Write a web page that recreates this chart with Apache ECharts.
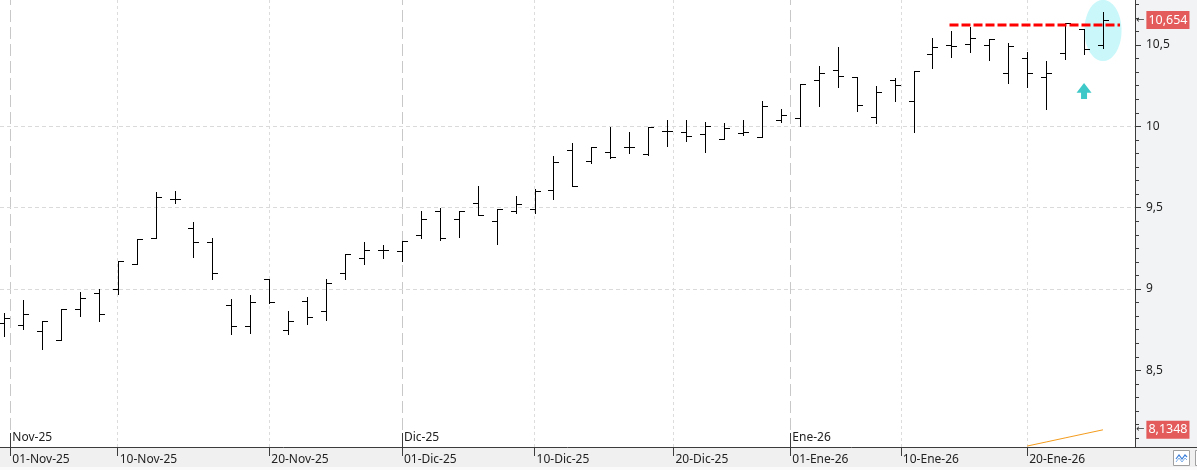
<!DOCTYPE html>
<html>
<head>
<meta charset="utf-8">
<script src="https://cdn.jsdelivr.net/npm/echarts@6/dist/echarts.min.js"></script>
<style>
html, body { margin: 0; padding: 0; background: #fff; }
#chart { width: 1197px; height: 470px; }
</style>
</head>
<body>
<div id="chart"></div>
<script>
// sesiones
const dates = ['2025-10-31','2025-11-03','2025-11-04','2025-11-05','2025-11-06','2025-11-07',
  '2025-11-10','2025-11-11','2025-11-12','2025-11-13','2025-11-14','2025-11-17','2025-11-18',
  '2025-11-19','2025-11-20','2025-11-21','2025-11-24','2025-11-25','2025-11-26','2025-11-27',
  '2025-11-28','2025-12-01','2025-12-02','2025-12-03','2025-12-04','2025-12-05','2025-12-08',
  '2025-12-09','2025-12-10','2025-12-11','2025-12-12','2025-12-15','2025-12-16','2025-12-17',
  '2025-12-18','2025-12-19','2025-12-22','2025-12-23','2025-12-24','2025-12-29','2025-12-30',
  '2025-12-31','2026-01-02','2026-01-05','2026-01-06','2026-01-07','2026-01-08','2026-01-09',
  '2026-01-12','2026-01-13','2026-01-14','2026-01-15','2026-01-16','2026-01-19','2026-01-20',
  '2026-01-21','2026-01-22','2026-01-23','2026-01-26']

const open = [8.79,8.777,8.74,8.685,8.876,8.977,8.998,9.152,9.312,9.552,9.373,9.287,8.9,8.773,
  9.06,8.746,8.925,8.863,9.097,9.189,9.238,9.232,9.33,9.478,9.429,9.527,9.417,9.478,9.49,9.609,
  9.855,9.785,9.841,9.871,9.832,9.971,9.965,9.951,9.92,9.959,9.937,10.037,10.051,10.283,10.345,
  10.302,10.056,10.285,10.156,10.445,10.5,10.506,10.5,10.328,10.42,10.302,10.451,10.597,10.498]
const high = [8.855,8.933,8.804,8.876,8.98,9.0,9.172,9.309,9.595,9.603,9.41,9.312,8.939,8.962,
  9.06,8.863,8.949,9.06,9.214,9.289,9.271,9.295,9.48,9.496,9.478,9.633,9.492,9.57,9.613,9.816,
  9.896,9.873,9.998,9.965,9.996,10.039,10.039,10.027,10.021,10.039,10.154,10.105,10.259,10.369,
  10.488,10.302,10.248,10.297,10.34,10.541,10.584,10.609,10.535,10.514,10.455,10.4,10.633,10.597,10.7]
const low = [8.713,8.756,8.63,8.685,8.836,8.805,8.968,9.152,9.312,9.531,9.199,9.06,8.722,8.732,
  8.912,8.722,8.787,8.812,9.064,9.156,9.193,9.174,9.312,9.3,9.322,9.453,9.279,9.466,9.469,9.552,
  9.632,9.773,9.804,9.838,9.822,9.881,9.912,9.844,9.92,9.949,9.935,10.029,10.004,10.128,10.244,
  10.093,10.022,10.158,9.963,10.36,10.424,10.455,10.41,10.265,10.24,10.105,10.412,10.445,10.483]
const close = [8.824,8.845,8.802,8.876,8.943,8.845,9.172,9.306,9.566,9.552,9.287,9.097,8.773,8.919,
  8.919,8.802,8.828,9.035,9.214,9.238,9.238,9.293,9.431,9.314,9.478,9.457,9.492,9.521,9.603,9.781,
  9.632,9.871,9.814,9.871,9.994,9.971,9.939,10.0,9.988,9.965,10.123,10.068,10.259,10.328,10.308,
  10.129,10.211,10.252,10.34,10.486,10.492,10.541,10.535,10.492,10.328,10.328,10.633,10.477,10.654]

// eje de fechas
const dateTicks = ['2025-11-01','2025-11-10','2025-11-20','2025-12-01','2025-12-10','2025-12-20',
  '2026-01-01','2026-01-10','2026-01-20']
const dateTickLabels = ['01-Nov-25','10-Nov-25','20-Nov-25','01-Dic-25','10-Dic-25','20-Dic-25',
  '01-Ene-26','10-Ene-26','20-Ene-26']
const monthTicks = ['2025-11-01','2025-12-01','2026-01-01']
const monthLabels = ['Nov-25','Dic-25','Ene-26']

// eje de precios
const priceTicks = [8.5, 9, 9.5, 10, 10.5]

// indicador (linea naranja)
const indDates = ['2026-01-20','2026-01-21','2026-01-22','2026-01-23','2026-01-26']
const indValues = [8.035, 8.06, 8.085, 8.11, 8.1348]

// anotaciones
const resistance = [[49.9, 10.623], [58.9, 10.623]]   // [sesion, precio]
const highlight = [[58, 10.589]]
const upArrow = [[57, 10.168, 10.266]]                 // [sesion, base, punta]
const lastClose = close[close.length - 1]
const lastInd = indValues[indValues.length - 1]

const FONT = "'Noto Sans', sans-serif"
const INK = '#3c3c3c'

// posicion de una fecha de calendario sobre el eje de sesiones
const ms = s => Date.parse(s + 'T00:00:00Z')
function posOf(d) {
  const t = ms(d)
  for (let i = 0; i < dates.length; i++) {
    const ti = ms(dates[i])
    if (ti === t) return i
    if (ti > t) {
      if (i === 0) return 0
      const tp = ms(dates[i - 1])
      return i - 1 + (t - tp) / (ti - tp)
    }
  }
  return dates.length - 1
}
const tickPos = dateTicks.map(posOf)
const monthPos = monthTicks.map(posOf)
const near = (arr, v) => arr.findIndex(p => Math.abs(p - v) < 1e-6)

// escala
const barStep = 18.948, firstBarX = 4, plotW = 1135
const xMin = -firstBarX / barStep
const xMax = xMin + plotW / barStep
const pxPerUnit = 162.7
const yMax = 10.5 + 45 / pxPerUnit
const yMin = yMax - 447 / pxPerUnit

const minorStep = 0.5 / 6
const minorTicks = []
for (let k = Math.ceil((yMin - priceTicks[0]) / minorStep); priceTicks[0] + k * minorStep <= yMax; k++) {
  if (k % 6 !== 0) minorTicks.push(+(priceTicks[0] + k * minorStep).toFixed(5))
}

const fmt = v => String(v).replace('.', ',')
const crisp = v => Math.round(v) + 0.5

function renderBar(params, api) {
  const i = api.value(0)
  const pH = api.coord([i, api.value(2)])
  const pL = api.coord([i, api.value(3)])
  const yO = crisp(api.coord([i, api.value(1)])[1])
  const yC = crisp(api.coord([i, api.value(4)])[1])
  const x = crisp(pH[0])
  const st = { stroke: '#000', lineWidth: 1 }
  return {
    type: 'group',
    children: [
      { type: 'line', shape: { x1: x, y1: Math.round(pH[1]), x2: x, y2: Math.round(pL[1]) + 1 }, style: st },
      { type: 'line', shape: { x1: x - 5.5, y1: yO, x2: x, y2: yO }, style: st },
      { type: 'line', shape: { x1: x, y1: yC, x2: x + 5.5, y2: yC }, style: st }
    ]
  }
}

function renderHighlight(params, api) {
  const c = api.coord([api.value(0), api.value(1)])
  const s = api.size([0.98, 0.188])
  return { type: 'ellipse', shape: { cx: c[0], cy: c[1], rx: s[0], ry: s[1] }, style: { fill: '#c9f7fa' } }
}

function renderArrow(params, api) {
  const b = api.coord([api.value(0), api.value(1)])
  const t = api.coord([api.value(0), api.value(2)])
  const x = t[0], hy = t[1] + (b[1] - t[1]) * 0.6
  return {
    type: 'polygon',
    shape: { points: [[x, t[1]], [x + 7.5, hy], [x + 3, hy], [x + 3, b[1]], [x - 3, b[1]], [x - 3, hy], [x - 7.5, hy]] },
    style: { fill: '#3fc8c8' }
  }
}

const chart = echarts.init(document.getElementById('chart'))
chart.setOption({
  animation: false,
  backgroundColor: '#f2f3f5',
  textStyle: { fontFamily: FONT },
  grid: { left: 0, right: 1197 - plotW, top: 0, bottom: 23, show: true, backgroundColor: '#fff', borderWidth: 0 },
  xAxis: [
    {
      type: 'value', position: 'bottom', min: xMin, max: xMax, z: 3,
      axisLine: { show: true, onZero: false, lineStyle: { color: INK } },
      splitLine: { show: false },
      axisTick: { show: true, length: 9, customValues: tickPos, lineStyle: { color: INK } },
      axisLabel: {
        customValues: tickPos, align: 'left', margin: 6, padding: [0, 0, 0, 2],
        color: '#222', fontSize: 12, fontFamily: FONT, lineHeight: 14,
        formatter: v => dateTickLabels[near(tickPos, v)] || ''
      }
    },
    {
      type: 'value', position: 'bottom', min: xMin, max: xMax, z: 3,
      axisLine: { show: false, onZero: false },
      splitLine: { show: false },
      axisTick: { show: true, inside: true, length: 14, customValues: monthPos, lineStyle: { color: INK } },
      axisLabel: {
        inside: true, customValues: monthPos, align: 'left', margin: 2, padding: [0, 0, 0, 2],
        color: '#222', fontSize: 12, fontFamily: FONT, lineHeight: 14,
        formatter: v => monthLabels[near(monthPos, v)] || ''
      }
    }
  ],
  yAxis: [
    {
      type: 'value', position: 'right', min: yMin, max: yMax, splitNumber: 5, z: 3,
      axisLine: { show: true, onZero: false, lineStyle: { color: INK } },
      axisTick: { show: true, length: 6, customValues: priceTicks, lineStyle: { color: INK } },
      axisLabel: { customValues: priceTicks, margin: 11, color: '#222', fontSize: 12, fontFamily: FONT, formatter: fmt },
      splitLine: { show: true, showMinLine: false, showMaxLine: false, lineStyle: { color: '#dadada', type: [4, 3] } }
    },
    {
      type: 'value', position: 'right', min: yMin, max: yMax, z: 3,
      axisLine: { show: false, onZero: false },
      axisTick: { show: true, length: 4, customValues: minorTicks, lineStyle: { color: INK } },
      axisLabel: { show: false },
      splitLine: { show: false }
    },
    {
      type: 'value', position: 'right', min: yMin, max: yMax, z: 4,
      axisLine: { show: false, onZero: false },
      axisTick: { show: false },
      splitLine: { show: false },
      axisLabel: {
        customValues: [lastInd, lastClose], margin: 1,
        formatter: v => '{a|←}{b|' + fmt(v) + '}',
        rich: {
          a: { fontFamily: 'DejaVu Sans', fontSize: 10, color: '#333', padding: [0, 2, 0, 0] },
          b: { backgroundColor: '#e35b5b', color: '#fff', fontFamily: FONT, fontSize: 12.5, lineHeight: 18, height: 18, padding: [0, 2, 0, 2] }
        }
      }
    }
  ],
  series: [
    {
      type: 'custom', name: 'zona', z: 1, silent: true,
      renderItem: renderHighlight, data: highlight, clip: true
    },
    {
      type: 'line', name: 'indicador', z: 2, symbol: 'none', silent: true,
      data: indDates.map((d, i) => [posOf(d), indValues[i]]),
      lineStyle: { color: '#f39b1c', width: 1 },
      markLine: {
        silent: true, symbol: 'none', z: 1, label: { show: false }, emphasis: { disabled: true },
        data: dateTicks.map(d => ({
          xAxis: posOf(d),
          lineStyle: monthTicks.includes(d)
            ? { color: '#c8c8c8', width: 1, type: [12, 5] }
            : { color: '#dcdcdc', width: 1, type: [3, 3] }
        }))
      }
    },
    {
      type: 'custom', name: 'OHLC', z: 3, silent: true, clip: true,
      renderItem: renderBar,
      encode: { x: 0, y: [1, 2, 3, 4] },
      data: dates.map((d, i) => [i, open[i], high[i], low[i], close[i]])
    },
    {
      type: 'line', name: 'resistencia', z: 4, symbol: 'none', silent: true,
      data: resistance,
      lineStyle: { color: '#ff0000', width: 3, type: [9, 3] }
    },
    {
      type: 'custom', name: 'flecha', z: 4, silent: true,
      renderItem: renderArrow, data: upArrow
    }
  ],
  graphic: [
    { type: 'rect', silent: true, z: -1, shape: { x: 0, y: 448, width: 1197, height: 19 }, style: { fill: '#f0f0f0' } },
    { type: 'rect', silent: true, z: -1, shape: { x: 0, y: 467, width: 1197, height: 3 }, style: { fill: '#fafafa' } },
    { type: 'line', silent: true, shape: { x1: plotW, y1: 447.5, x2: 1197, y2: 447.5 }, style: { stroke: INK, lineWidth: 1 } },
    { type: 'rect', silent: true, shape: { x: 1173.5, y: 450.5, width: 16, height: 15 }, style: { fill: '#fff', stroke: '#a0a0a0', lineWidth: 1 } },
    { type: 'polyline', silent: true, shape: { points: [[1176, 459], [1179, 455], [1182, 459], [1185, 455], [1187, 457]] }, style: { stroke: '#3b7fd9', lineWidth: 1.2, fill: null } },
    { type: 'polyline', silent: true, shape: { points: [[1176, 462], [1179, 458], [1182, 462], [1185, 458], [1187, 460]] }, style: { stroke: '#7fb0ea', lineWidth: 1, fill: null } },
    { type: 'rect', silent: true, shape: { x: 1195.5, y: 450.5, width: 8, height: 15 }, style: { fill: '#fff', stroke: '#a0a0a0', lineWidth: 1 } }
  ]
})
</script>
</body>
</html>
